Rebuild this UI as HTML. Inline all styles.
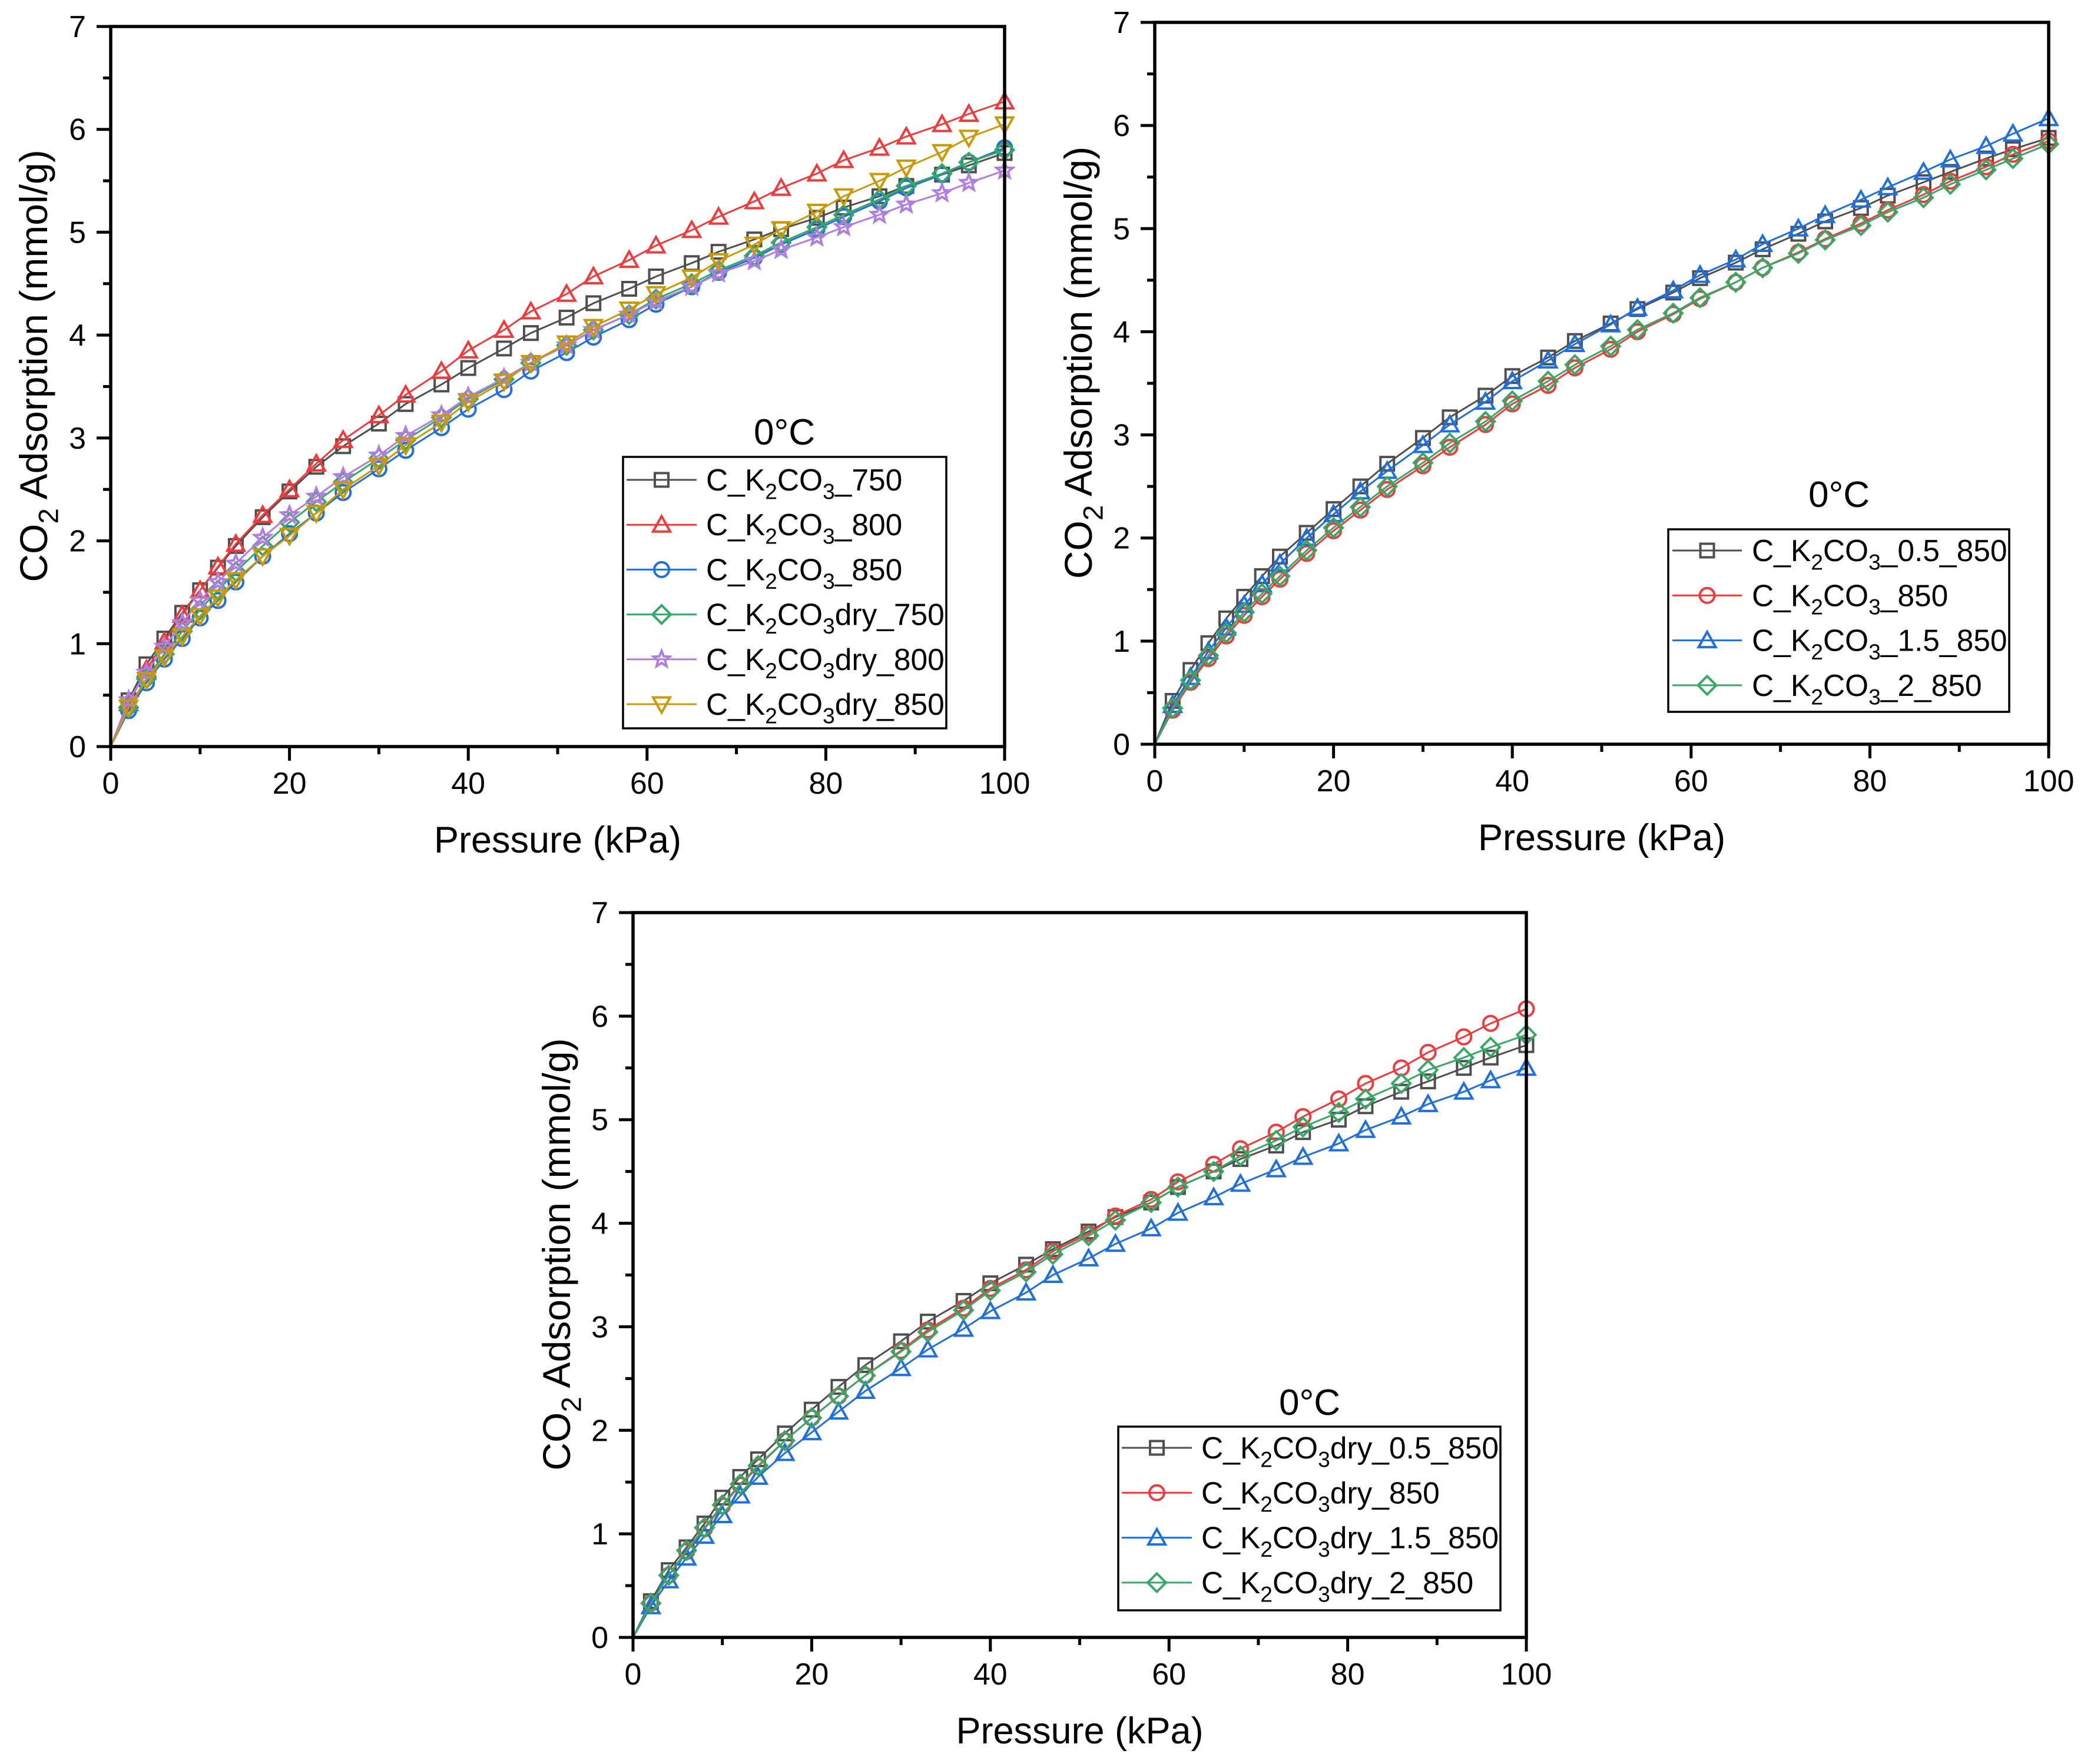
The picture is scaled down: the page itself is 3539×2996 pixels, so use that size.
<!DOCTYPE html>
<html><head><meta charset="utf-8"><style>
html,body{margin:0;padding:0;background:#fff;}
svg{display:block;font-family:"Liberation Sans",Arial,sans-serif;}
</style></head><body>
<svg id="fig" width="3539" height="2996" viewBox="0 0 3539 2996" xmlns="http://www.w3.org/2000/svg"></svg>
<script>
// ---- data ----
const pressures = [0,2,4,6,8,10,12,14,17,20,23,26,30,33,37,40,44,47,51,54,58,61,65,68,72,75,79,82,86,89,93,96,100];
const xTicks = [0,20,40,60,80,100];
const yTicks = [0,1,2,3,4,5,6,7];

const p1_750   = [0,0.45,0.8,1.05,1.3,1.52,1.74,1.95,2.23,2.48,2.72,2.92,3.14,3.33,3.52,3.68,3.87,4.02,4.17,4.31,4.45,4.57,4.7,4.81,4.93,5.03,5.14,5.24,5.35,5.45,5.56,5.65,5.77];
const p1_800   = [0,0.42,0.75,1.02,1.28,1.52,1.75,1.97,2.25,2.5,2.75,2.98,3.22,3.42,3.65,3.85,4.05,4.23,4.4,4.57,4.73,4.87,5.02,5.15,5.3,5.43,5.57,5.7,5.82,5.93,6.05,6.15,6.27];
const p1_850   = [0,0.35,0.62,0.85,1.05,1.25,1.42,1.6,1.85,2.07,2.27,2.47,2.7,2.88,3.1,3.28,3.47,3.65,3.83,3.98,4.15,4.3,4.47,4.61,4.75,4.88,5.03,5.15,5.3,5.43,5.56,5.68,5.82];
const p1_d750  = [0,0.38,0.66,0.9,1.12,1.33,1.52,1.7,1.95,2.18,2.38,2.57,2.8,2.98,3.2,3.38,3.57,3.73,3.9,4.05,4.2,4.35,4.5,4.63,4.77,4.9,5.05,5.17,5.32,5.45,5.57,5.68,5.8];
const p1_d800  = [0,0.45,0.72,0.97,1.2,1.42,1.6,1.78,2.03,2.25,2.43,2.62,2.83,3.02,3.22,3.4,3.58,3.73,3.9,4.05,4.2,4.33,4.47,4.6,4.72,4.83,4.95,5.05,5.17,5.27,5.38,5.48,5.6];
const p1_d850  = [0,0.38,0.65,0.87,1.07,1.27,1.45,1.62,1.85,2.05,2.27,2.5,2.73,2.93,3.15,3.35,3.55,3.73,3.92,4.08,4.25,4.4,4.56,4.72,4.88,5.03,5.2,5.35,5.5,5.63,5.78,5.92,6.05];

const p2_05  = [0,0.42,0.72,0.98,1.22,1.43,1.63,1.82,2.05,2.28,2.5,2.72,2.97,3.17,3.38,3.57,3.75,3.91,4.08,4.22,4.38,4.52,4.67,4.8,4.95,5.07,5.2,5.32,5.45,5.55,5.68,5.77,5.88];
const p2_1   = [0,0.33,0.6,0.83,1.05,1.25,1.43,1.6,1.85,2.07,2.27,2.47,2.7,2.88,3.1,3.3,3.48,3.65,3.83,4.0,4.17,4.32,4.48,4.62,4.77,4.9,5.05,5.18,5.33,5.46,5.6,5.72,5.85];
const p2_15  = [0,0.38,0.65,0.9,1.13,1.35,1.55,1.75,2.0,2.23,2.45,2.65,2.9,3.1,3.32,3.52,3.72,3.88,4.07,4.23,4.4,4.55,4.7,4.85,5.0,5.13,5.28,5.4,5.55,5.67,5.8,5.92,6.07];
const p2_2   = [0,0.35,0.62,0.86,1.08,1.28,1.46,1.63,1.88,2.1,2.3,2.5,2.73,2.92,3.13,3.33,3.52,3.68,3.86,4.02,4.18,4.33,4.48,4.62,4.76,4.89,5.03,5.16,5.3,5.43,5.57,5.68,5.82];

const p3_05  = [0,0.35,0.65,0.87,1.1,1.35,1.55,1.72,1.97,2.2,2.42,2.63,2.86,3.05,3.25,3.42,3.6,3.75,3.92,4.06,4.2,4.35,4.5,4.62,4.75,4.88,5.0,5.13,5.27,5.37,5.5,5.6,5.72];
const p3_1   = [0,0.33,0.6,0.83,1.05,1.27,1.47,1.65,1.9,2.12,2.33,2.53,2.77,2.97,3.18,3.37,3.55,3.73,3.9,4.07,4.23,4.4,4.57,4.72,4.88,5.03,5.2,5.35,5.5,5.65,5.8,5.93,6.07];
const p3_15  = [0,0.3,0.55,0.77,0.98,1.18,1.37,1.55,1.78,1.98,2.18,2.38,2.6,2.78,2.98,3.15,3.33,3.5,3.66,3.8,3.95,4.1,4.25,4.38,4.52,4.64,4.77,4.9,5.03,5.15,5.27,5.38,5.5];
const p3_2   = [0,0.33,0.6,0.84,1.06,1.28,1.48,1.66,1.9,2.12,2.33,2.53,2.76,2.95,3.16,3.35,3.53,3.7,3.88,4.03,4.2,4.35,4.5,4.65,4.8,4.93,5.07,5.2,5.35,5.48,5.6,5.7,5.82];

const C = {gray:"#4f4f4f",red:"#ef3b3b",blue:"#1f6fdc",green:"#38a866",purple:"#b07ee0",gold:"#c99a06"};
const NS = "http://www.w3.org/2000/svg";
const svg = document.getElementById('fig');
function mk(tag, attrs, parent){ const e=document.createElementNS(NS,tag); for(const k in attrs) e.setAttribute(k,attrs[k]); (parent||svg).appendChild(e); return e; }

function marker(g, shape, cx, cy, col){
  const s=12.5; let e;
  const st={fill:"none",stroke:col,"stroke-width":4};
  if(shape==="square") e=mk('rect',Object.assign({x:cx-s+1,y:cy-s+1,width:2*s-2,height:2*s-2},st),g);
  else if(shape==="circle") e=mk('circle',Object.assign({cx:cx,cy:cy,r:s},st),g);
  else if(shape==="tri") e=mk('polygon',Object.assign({points:`${cx},${cy-s-2} ${cx+s+2},${cy+s-1} ${cx-s-2},${cy+s-1}`},st),g);
  else if(shape==="itri") e=mk('polygon',Object.assign({points:`${cx},${cy+s+2} ${cx+s+2},${cy-s+1} ${cx-s-2},${cy-s+1}`},st),g);
  else if(shape==="diamond") e=mk('polygon',Object.assign({points:`${cx},${cy-s-3} ${cx+s+3},${cy} ${cx},${cy+s+3} ${cx-s-3},${cy}`},st),g);
  else if(shape==="star"){ let pts=[]; for(let i=0;i<10;i++){const r=i%2?s*0.5:s+2; const a=-Math.PI/2+i*Math.PI/5; pts.push((cx+r*Math.cos(a)).toFixed(1)+","+(cy+r*Math.sin(a)).toFixed(1));} e=mk('polygon',Object.assign({points:pts.join(" ")},st),g);}
  
  
  return e;
}

function labelText(parent, x, y, size, parts, anchor){
  const t=mk('text',{x:x,y:y,"font-size":size,fill:"#000","text-anchor":anchor||"start"},parent);
  parts.forEach(p=>{ const ts=mk('tspan',{},t); ts.textContent=p[0];
    if(p[1]==='sub'){ ts.setAttribute('font-size',size*0.72); ts.setAttribute('dy',size*0.28);}
    if(p[1]==='back'){ ts.setAttribute('dy',-size*0.28);} });
  return t;
}
function k2co3(prefix, suffix){ return [[prefix],["K"],["2","sub"],["CO","back"],["3","sub"],[suffix,"back"]]; }

function plot(cfg){
  const g=mk('g',{});
  
  
  const X=v=>cfg.x0+(cfg.x1-cfg.x0)*v/100;
  const Y=v=>cfg.y0+(cfg.y1-cfg.y0)*v/7;
  cfg.series.forEach(s=>{
    const sg=mk('g',{},g);
    
    
    const d=pressures.map((p,i)=>(i?'L':'M')+X(p).toFixed(1)+','+Y(s.vals[i]).toFixed(1)).join(' ');
    const ln=mk('path',{d:d,fill:"none",stroke:s.col,"stroke-width":3},sg);
    
    
    pressures.forEach((p,i)=>{ if(i>0) marker(sg,s.shape,X(p),Y(s.vals[i]),s.col); });
  });
  const fr=mk('rect',{x:cfg.x0,y:cfg.y1,width:cfg.x1-cfg.x0,height:cfg.y0-cfg.y1,fill:"none",stroke:"#000","stroke-width":5.5},g);
  
  
  for(let v=0;v<=100;v+=10){ const major=v%20===0;
    const tk=mk('line',{x1:X(v),x2:X(v),y1:cfg.y0,y2:cfg.y0+(major?24:13),stroke:"#000","stroke-width":5},g);
      }
  xTicks.forEach(v=>{ const t=mk('text',{x:X(v),y:cfg.y0+80,"font-size":52,"text-anchor":"middle"},g); t.textContent=v;
      });
  for(let v=0;v<=7;v+=0.5){ const major=v%1===0;
    const tk=mk('line',{x1:cfg.x0,x2:cfg.x0-(major?24:13),y1:Y(v),y2:Y(v),stroke:"#000","stroke-width":5},g);
      }
  yTicks.forEach(v=>{ const t=mk('text',{x:cfg.x0-42,y:Y(v)+18,"font-size":52,"text-anchor":"end"},g); t.textContent=v;
      });
  const xt=mk('text',{x:(cfg.x0+cfg.x1)/2,y:cfg.y0+180,"font-size":63,"text-anchor":"middle"},g);
  xt.textContent="Pressure (kPa)";
   
  const yg=mk('g',{transform:`translate(${cfg.ytx},${(cfg.y0+cfg.y1)/2-35}) rotate(-90)`},g);
  const yt=labelText(yg,0,0,66,[["CO"],["2","sub"],[" Adsorption (mmol/g)","back"]],"middle");
   
  const L=cfg.leg;
  const tt=mk('text',{x:L.tx,y:L.ty,"font-size":62,"text-anchor":"middle"},g); tt.textContent="0°C";
   
  const lg=mk('g',{},g);
   
  mk('rect',{x:L.x,y:L.y,width:L.w,height:L.h,fill:"#fff",stroke:"#000","stroke-width":3.5},lg);
  cfg.series.forEach((s,i)=>{
    const ry=L.r0+i*L.dy;
    const eg=mk('g',{},lg);
     
    mk('line',{x1:L.lx0,x2:L.lx1,y1:ry,y2:ry,stroke:s.col,"stroke-width":3},eg);
    marker(eg,s.shape,(L.lx0+L.lx1)/2,ry,s.col);
    labelText(eg,L.tx0,ry+18,51.5,k2co3("C_",s.suffix));
  });
}

plot({name:"chart-top-left",x0:188,x1:1706,y0:1268,y1:45,ytx:80,
  series:[
    {key:"750",vals:p1_750,col:C.gray,shape:"square",suffix:"_750"},
    {key:"800",vals:p1_800,col:C.red,shape:"tri",suffix:"_800"},
    {key:"850",vals:p1_850,col:C.blue,shape:"circle",suffix:"_850"},
    {key:"dry750",vals:p1_d750,col:C.green,shape:"diamond",suffix:"dry_750"},
    {key:"dry800",vals:p1_d800,col:C.purple,shape:"star",suffix:"dry_800"},
    {key:"dry850",vals:p1_d850,col:C.gold,shape:"itri",suffix:"dry_850"}],
  leg:{tx:1332,ty:755,x:1058,y:776,w:549,h:461,r0:815,dy:76.2,lx0:1064,lx1:1183,tx0:1199}});

plot({name:"chart-top-right",x0:1961,x1:3479,y0:1264,y1:38,ytx:1854,
  series:[
    {key:"0.5-850",vals:p2_05,col:C.gray,shape:"square",suffix:"_0.5_850"},
    {key:"850",vals:p2_1,col:C.red,shape:"circle",suffix:"_850"},
    {key:"1.5-850",vals:p2_15,col:C.blue,shape:"tri",suffix:"_1.5_850"},
    {key:"2-850",vals:p2_2,col:C.green,shape:"diamond",suffix:"_2_850"}],
  leg:{tx:3123,ty:861,x:2833,y:899,w:579,h:310,r0:935,dy:76.3,lx0:2840,lx1:2958,tx0:2975}});

plot({name:"chart-bottom",x0:1075,x1:2592,y0:2781,y1:1550,ytx:968,
  series:[
    {key:"dry-0.5-850",vals:p3_05,col:C.gray,shape:"square",suffix:"dry_0.5_850"},
    {key:"dry-850",vals:p3_1,col:C.red,shape:"circle",suffix:"dry_850"},
    {key:"dry-1.5-850",vals:p3_15,col:C.blue,shape:"tri",suffix:"dry_1.5_850"},
    {key:"dry-2-850",vals:p3_2,col:C.green,shape:"diamond",suffix:"dry_2_850"}],
  leg:{tx:2224,ty:2403,x:1899,y:2423,w:649,h:312,r0:2459,dy:76.3,lx0:1905,lx1:2024,tx0:2040}});
</script>
</body></html>
